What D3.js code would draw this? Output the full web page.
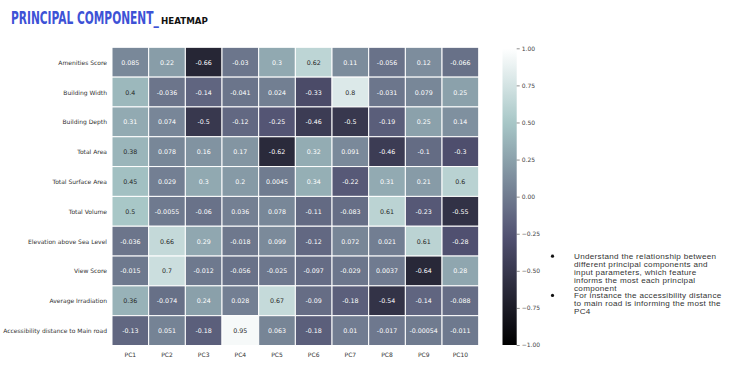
<!DOCTYPE html>
<html>
<head>
<meta charset="utf-8">
<script src="https://cdn.jsdelivr.net/npm/d3@7"></script>
<style>
  body { margin: 0; background: #fff; }
  svg { display: block; }
</style>
</head>
<body>
<svg id="chart" width="730" height="371"></svg>
<script>
// PCA loadings (rows = input features, columns = principal components)
const features = [
  "Amenities Score", "Building Width", "Building Depth", "Total Area",
  "Total Surface Area", "Total Volume", "Elevation above Sea Level",
  "View Score", "Average Irradiation", "Accessibility distance to Main road"
];
const components = ["PC1", "PC2", "PC3", "PC4", "PC5", "PC6", "PC7", "PC8", "PC9", "PC10"];
const loadings = [
  [0.085, 0.22, -0.66, -0.03, 0.3, 0.62, 0.11, -0.056, 0.12, -0.066],
  [0.4, -0.036, -0.14, -0.041, 0.024, -0.33, 0.8, -0.031, 0.079, 0.25],
  [0.31, 0.074, -0.5, -0.12, -0.25, -0.46, -0.5, -0.19, 0.25, 0.14],
  [0.38, 0.078, 0.16, 0.17, -0.62, 0.32, 0.091, -0.46, -0.1, -0.3],
  [0.45, 0.029, 0.3, 0.2, 0.0045, 0.34, -0.22, 0.31, 0.21, 0.6],
  [0.5, -0.0055, -0.06, 0.036, 0.078, -0.11, -0.083, 0.61, -0.23, -0.55],
  [-0.036, 0.66, 0.29, -0.018, 0.099, -0.12, 0.072, 0.021, 0.61, -0.28],
  [-0.015, 0.7, -0.012, -0.056, -0.025, -0.097, -0.029, 0.0037, -0.64, 0.28],
  [0.36, -0.074, 0.24, 0.028, 0.67, -0.09, -0.18, -0.54, -0.14, -0.088],
  [-0.13, 0.051, -0.18, 0.95, 0.063, -0.18, 0.01, -0.017, -0.00054, -0.011]
];
const cbarTicks = [-1, -0.75, -0.5, -0.25, 0, 0.25, 0.5, 0.75, 1];
const notes = [
  ["Understand the relationship between", "different principal components and",
   "input parameters, which feature", "informs the most each principal", "component"],
  ["For instance the accessibility distance", "to main road is informing the most the", "PC4"]
];

// matplotlib "bone" colormap
function bone(t) {
  t = Math.max(0, Math.min(1, t));
  const seg = (pts) => {
    for (let i = 1; i < pts.length; i++) {
      if (t <= pts[i][0]) {
        const [x0, y0] = pts[i - 1], [x1, y1] = pts[i];
        return y0 + (t - x0) / (x1 - x0) * (y1 - y0);
      }
    }
    return 1;
  };
  const r = seg([[0, 0], [0.746032, 0.652778], [1, 1]]);
  const g = seg([[0, 0], [0.365079, 0.319444], [0.746032, 0.777778], [1, 1]]);
  const b = seg([[0, 0], [0.365079, 0.444444], [1, 1]]);
  return d3.rgb(r * 255, g * 255, b * 255);
}
const norm = d3.scaleLinear().domain([-1, 1]).range([0, 1]);
const color = v => bone(norm(v));

// seaborn-like annotation colour choice
function textColor(c) {
  const lin = x => { x /= 255; return x <= 0.03928 ? x / 12.92 : Math.pow((x + 0.055) / 1.055, 2.4); };
  const lum = 0.2126 * lin(c.r) + 0.7152 * lin(c.g) + 0.0722 * lin(c.b);
  return lum > 0.408 ? "#262626" : "#ffffff";
}
const fmt = v => String(parseFloat(v.toPrecision(2)));

const svg = d3.select("#chart");

// Title: condensed look by shrinking the font to fit the width, then stretching it vertically
function squeezedText(txt, x0, base, width, capSize, opts) {
  const t = svg.append("text")
    .attr("font-family", opts.family)
    .attr("font-weight", "bold")
    .attr("font-size", capSize)
    .attr("fill", opts.fill)
    .text(txt);
  const w = t.node().getComputedTextLength();
  const fs = capSize * width / w;
  t.attr("font-size", fs)
    .attr("transform", `translate(${x0},${base}) scale(1,${capSize / fs})`);
}
squeezedText("PRINCIPAL COMPONENT_", 11, 24, 148, 17,
  { family: "'DejaVu Sans Condensed', 'DejaVu Sans', sans-serif", fill: "#3d52d6" });
squeezedText("HEATMAP", 161, 24, 47, 8,
  { family: "'DejaVu Sans', sans-serif", fill: "#111" });

// Heatmap
const x = d3.scaleBand().domain(components).range([112, 478.7]);
const y = d3.scaleBand().domain(features).range([47.3, 345.5]);

const cells = [];
features.forEach((f, i) => components.forEach((c, j) => cells.push({ f, c, v: loadings[i][j] })));

const g = svg.append("g");
g.selectAll("rect").data(cells).join("rect")
  .attr("x", d => x(d.c))
  .attr("y", d => y(d.f))
  .attr("width", x.bandwidth())
  .attr("height", y.bandwidth())
  .attr("fill", d => color(d.v))
  .attr("stroke", "#fff")
  .attr("stroke-width", 1);

g.selectAll("text").data(cells).join("text")
  .attr("x", d => x(d.c) + x.bandwidth() / 2)
  .attr("y", d => y(d.f) + y.bandwidth() / 2)
  .attr("text-anchor", "middle")
  .attr("dominant-baseline", "central")
  .attr("font-family", "'DejaVu Sans', sans-serif")
  .attr("font-size", 6.3)
  .attr("fill", d => textColor(color(d.v)))
  .text(d => fmt(d.v));

// Row labels
svg.append("g").selectAll("text").data(features).join("text")
  .attr("x", 107)
  .attr("y", d => y(d) + y.bandwidth() / 2)
  .attr("text-anchor", "end")
  .attr("dominant-baseline", "central")
  .attr("font-family", "'DejaVu Sans', sans-serif")
  .attr("font-size", 6)
  .attr("fill", "#333")
  .text(d => d);

// Column labels
svg.append("g").selectAll("text").data(components).join("text")
  .attr("x", d => x(d) + x.bandwidth() / 2)
  .attr("y", 354)
  .attr("text-anchor", "middle")
  .attr("dominant-baseline", "central")
  .attr("font-family", "'DejaVu Sans', sans-serif")
  .attr("font-size", 6)
  .attr("fill", "#333")
  .text(d => d);

// Colour bar
const cy = d3.scaleLinear().domain([-1, 1]).range([345, 48.3]);
const grad = svg.append("defs").append("linearGradient")
  .attr("id", "bone").attr("x1", 0).attr("y1", 1).attr("x2", 0).attr("y2", 0);
d3.range(0, 1.0001, 0.02).forEach(t => {
  grad.append("stop").attr("offset", t).attr("stop-color", bone(t));
});
svg.append("rect")
  .attr("x", 502.5).attr("y", cy(1))
  .attr("width", 14.2).attr("height", cy(-1) - cy(1))
  .attr("fill", "url(#bone)");

const axis = svg.append("g")
  .attr("transform", "translate(516.7,0)")
  .call(d3.axisRight(cy).tickValues(cbarTicks).tickSize(3).tickPadding(2).tickFormat(d3.format(".2f")));
axis.select(".domain").remove();
axis.selectAll("line").attr("stroke", "#444").attr("stroke-width", 0.6);
axis.selectAll("text")
  .attr("font-family", "'DejaVu Sans', sans-serif")
  .attr("font-size", 6)
  .attr("fill", "#444");

// Bullet notes
const lineH = 7.85;
let ly = 259.2;
notes.forEach(lines => {
  svg.append("circle").attr("cx", 552.5).attr("cy", ly - 3).attr("r", 1.6).attr("fill", "#111");
  lines.forEach(t => {
    svg.append("text")
      .attr("x", 574).attr("y", ly)
      .attr("font-family", "'Liberation Sans', Arial, sans-serif")
      .attr("font-size", 8.1)
      .attr("letter-spacing", 0.3)
      .attr("fill", "#333")
      .text(t);
    ly += lineH;
  });
});
</script>
</body>
</html>
